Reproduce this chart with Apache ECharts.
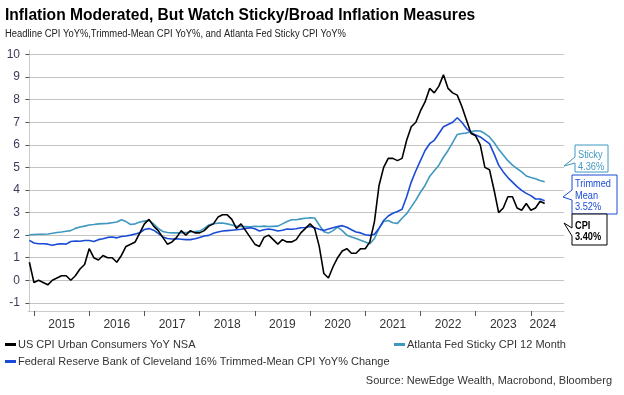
<!DOCTYPE html>
<html>
<head>
<meta charset="utf-8">
<script src="https://cdn.jsdelivr.net/npm/echarts@6/dist/echarts.min.js"></script>
<style>
html,body{margin:0;padding:0;background:#fff;}
#c{width:624px;height:395px;}
</style>
</head>
<body>
<div id="c"></div>
<script>
// Monthly data, Dec 2014 .. Apr 2024
const startYear = 2014, startMonth = 12;
const cpi = [0.8,
 -0.1,0.0,-0.1,-0.2,0.0,0.1,0.2,0.2,0.0,0.2,0.5,0.7,
 1.4,1.0,0.9,1.1,1.0,1.0,0.8,1.1,1.5,1.6,1.7,2.1,
 2.5,2.7,2.4,2.2,1.9,1.6,1.7,1.9,2.2,2.0,2.2,2.1,
 2.1,2.2,2.4,2.5,2.8,2.9,2.9,2.7,2.3,2.5,2.2,1.9,
 1.6,1.5,1.9,2.0,1.8,1.6,1.8,1.7,1.7,1.8,2.1,2.3,
 2.5,2.3,1.5,0.3,0.1,0.6,1.0,1.3,1.4,1.2,1.2,1.4,
 1.4,1.7,2.6,4.2,5.0,5.4,5.4,5.3,5.4,6.2,6.8,7.0,
 7.5,7.9,8.5,8.3,8.6,9.1,8.5,8.3,8.2,7.7,7.1,6.5,
 6.4,6.0,5.0,4.9,4.0,3.0,3.2,3.7,3.7,3.2,3.1,3.4,
 3.1,3.2,3.5,3.4];
const trimmedMean = [1.77,
 1.65,1.62,1.62,1.60,1.55,1.60,1.62,1.60,1.72,1.74,1.73,1.76,
 1.76,1.72,1.80,1.84,1.90,1.92,1.88,1.94,1.96,2.00,2.05,2.10,
 2.25,2.29,2.22,2.08,1.92,1.85,1.83,1.84,1.82,1.80,1.80,1.84,
 1.90,1.96,1.99,2.08,2.14,2.18,2.20,2.22,2.24,2.26,2.30,2.33,
 2.28,2.18,2.24,2.27,2.24,2.18,2.22,2.27,2.26,2.28,2.33,2.34,
 2.38,2.33,2.26,2.21,2.27,2.33,2.38,2.42,2.35,2.24,2.14,2.10,
 2.02,1.99,2.04,2.30,2.65,2.85,2.97,3.05,3.15,3.70,4.35,4.85,
 5.30,5.75,6.05,6.20,6.50,6.80,6.90,7.00,7.20,7.00,6.72,6.55,
 6.43,6.35,6.20,6.05,5.60,5.10,4.80,4.55,4.35,4.15,3.98,3.85,
 3.75,3.60,3.60,3.52];
const sticky = [2.02,
 2.03,2.04,2.04,2.05,2.08,2.12,2.14,2.17,2.20,2.30,2.36,2.40,
 2.45,2.47,2.50,2.51,2.52,2.55,2.58,2.68,2.60,2.47,2.50,2.58,
 2.62,2.65,2.50,2.30,2.16,2.12,2.10,2.10,2.10,2.12,2.14,2.16,
 2.18,2.30,2.45,2.51,2.53,2.54,2.50,2.45,2.40,2.39,2.38,2.37,
 2.39,2.38,2.40,2.38,2.39,2.40,2.50,2.60,2.68,2.68,2.72,2.75,
 2.77,2.76,2.45,2.15,2.09,2.20,2.36,2.20,2.00,1.92,1.85,1.77,
 1.70,1.62,1.85,2.30,2.60,2.65,2.55,2.52,2.75,2.95,3.25,3.55,
 3.90,4.20,4.60,4.85,5.10,5.45,5.75,6.10,6.46,6.50,6.52,6.59,
 6.62,6.61,6.50,6.35,6.10,5.80,5.55,5.30,5.10,4.95,4.80,4.62,
 4.55,4.50,4.42,4.36];
const yearLabels = ['2015','2016','2017','2018','2019','2020','2021','2022','2023','2024'];
const yTicks = [-1,0,1,2,3,4,5,6,7,8,9,10];
const seriesNames = {
  cpi: 'US CPI Urban Consumers YoY NSA',
  sticky: 'Atlanta Fed Sticky CPI 12 Month',
  trimmed: 'Federal Reserve Bank of Cleveland 16% Trimmed-Mean CPI YoY% Change'
};
const titleText = 'Inflation Moderated, But Watch Sticky/Broad Inflation Measures';
const subtitleText = 'Headline CPI YoY%,Trimmed-Mean CPI YoY%, and Atlanta Fed Sticky CPI YoY%';
const sourceText = 'Source: NewEdge Wealth, Macrobond, Bloomberg';
const endLabels = {sticky: ['Sticky','4.36%'], trimmed: ['Trimmed','Mean','3.52%'], cpi: ['CPI','3.40%']};

// x = months since Dec 2014
function toPairs(arr){ return arr.map((v,i)=>[i,v]); }
const yearTickPos = yearLabels.map((y,i)=> 1 + 12*i);
const yearLabelPos = yearLabels.map((y,i)=> i < yearLabels.length-1 ? 7 + 12*i : 1 + 12*i + 2.6);
function yearOf(v){ return String(2015 + Math.floor((v-1)/12)); }

const FONT = "'Liberation Sans', Arial, sans-serif";
const cTeal = '#3f98bf', cBlue = '#1a4bd6', cBlack = '#000000';

const chart = echarts.init(document.getElementById('c'), null, {renderer:'canvas'});

function callout(x, y, w, h, tailTop, tailBot, tipX, tipY, color, lines, bold, textTop){
  const pts = [[x,y],[x+w,y],[x+w,y+h],[x,y+h],[x,tailBot],[tipX,tipY],[x,tailTop],[x,y]];
  return {
    type:'group', children:[
      {type:'polygon', shape:{points:pts}, style:{fill:'#fff', stroke:color, lineWidth:1}, z:10},
      {type:'text', x:x+3, y:textTop, scaleX:0.92, z:11,
       style:{text:lines.join('\n'), fill:color, font:(bold?'bold ':'')+'10px '+FONT, lineHeight:11.5, verticalAlign:'top'}}
    ]
  };
}

const option = {
  animation:false,
  backgroundColor:'#fff',
  textStyle:{fontFamily:FONT},
  legend:[
    {data:[seriesNames.cpi], left:5, top:339, padding:0, icon:'rect', itemWidth:11, itemHeight:3,
     textStyle:{fontSize:11, color:'#333', padding:[0,0,0,-3]}},
    {data:[seriesNames.sticky], left:394, top:339, padding:0, icon:'rect', itemWidth:11, itemHeight:3,
     textStyle:{fontSize:11, color:'#333', padding:[0,0,0,-3]}},
    {data:[seriesNames.trimmed], left:5, top:356, padding:0, icon:'rect', itemWidth:11, itemHeight:3,
     textStyle:{fontSize:11, color:'#333', padding:[0,0,0,-3]}}
  ],
  grid:{left:28, right:60, top:50, bottom:84, containLabel:false},
  xAxis:{
    type:'value', min:-0.3, max:116.2,
    axisLine:{show:true, onZero:false, lineStyle:{color:'#cccccc', width:1}},
    axisTick:{show:true, customValues:yearTickPos, length:5, lineStyle:{color:'#555'}},
    axisLabel:{customValues:yearLabelPos, formatter:yearOf, fontSize:12, color:'#333', margin:8, fontFamily:FONT},
    splitLine:{show:false}
  },
  yAxis:{
    type:'value', min:-1.36, max:10.2,
    axisLine:{show:true, lineStyle:{color:'#cccccc', width:1}},
    axisTick:{show:true, customValues:yTicks, length:4, lineStyle:{color:'#555'}},
    axisLabel:{customValues:yTicks, fontSize:12, color:'#3c3c5a', margin:8, fontFamily:FONT},
    splitLine:{show:true, lineStyle:{color:'#c4c4c4', width:1}}
  },
  series:[
    {name:seriesNames.sticky, type:'line', data:toPairs(sticky), showSymbol:false, color:cTeal, lineStyle:{width:1.6, color:cTeal}},
    {name:seriesNames.trimmed, type:'line', data:toPairs(trimmedMean), showSymbol:false, color:cBlue, lineStyle:{width:1.6, color:cBlue}},
    {name:seriesNames.cpi, type:'line', data:toPairs(cpi), showSymbol:false, color:cBlack, lineStyle:{width:1.6, color:cBlack}}
  ],
  graphic:[
    {type:'text', x:5, y:7, scaleX:0.918, z:20,
     style:{text:titleText, font:"bold 17px 'Liberation Sans', Arial, sans-serif", fill:'#000', verticalAlign:'top'}},
    {type:'text', x:5, y:29, scaleX:0.94, z:20,
     style:{text:subtitleText, font:"10px 'Liberation Sans', Arial, sans-serif", fill:'#222', verticalAlign:'top'}},
    {type:'text', right:12, top:375, z:20,
     style:{text:sourceText, font:"11px 'Liberation Sans', Arial, sans-serif", fill:'#333'}},
    callout(575,145,33,27,157,163,564,166,cTeal,endLabels.sticky,false,149.5),
    callout(572,175,45,39,190,200,563,197,cBlue,endLabels.trimmed,false,178.5),
    callout(572,214,35,31,228,236,564,223,cBlack,endLabels.cpi,true,220)
  ]
};
chart.setOption(option);
</script>
</body>
</html>
